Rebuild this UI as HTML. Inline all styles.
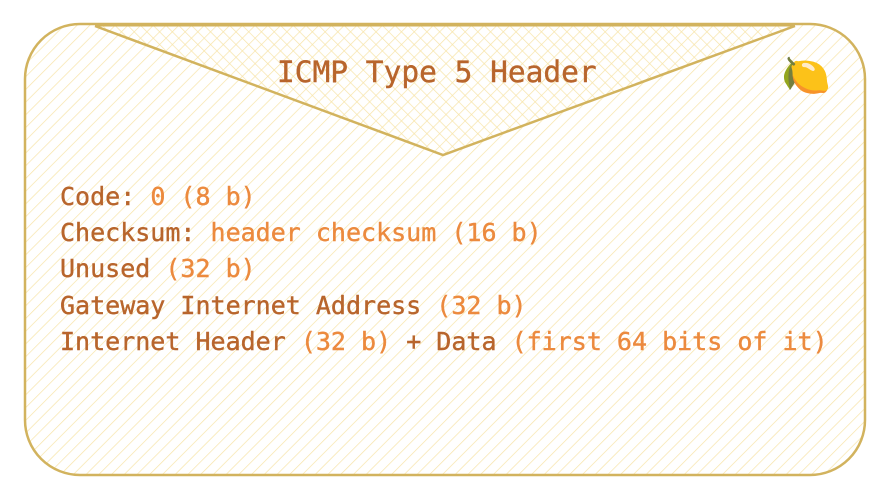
<!DOCTYPE html>
<html><head><meta charset="utf-8"><style>
html,body{margin:0;padding:0;background:#fff;width:888px;height:498px;overflow:hidden}
.t{font-family:"DejaVu Sans Mono","Liberation Mono",monospace;position:absolute;white-space:pre;-webkit-text-stroke:0.4px currentColor}
.d{color:#b8652c}.l{color:#ec8a3e}
</style></head><body>
<svg width="888" height="498" style="position:absolute;left:0;top:0">
<defs>
<pattern id="h" width="9" height="9" patternUnits="userSpaceOnUse" patternTransform="rotate(45)">
<line x1="0" y1="0" x2="0" y2="9" stroke="#f7e4a8" stroke-width="1.4"/></pattern>
<pattern id="h2" width="9" height="9" patternUnits="userSpaceOnUse" patternTransform="rotate(-45)">
<line x1="0" y1="0" x2="0" y2="9" stroke="#f7e4a8" stroke-width="1.4"/></pattern>
</defs>
<rect x="25" y="24" width="840" height="451" rx="55" fill="url(#h)"/>
<polygon points="95,25 795,25 443,155" fill="url(#h2)"/>
<rect x="25" y="24" width="840" height="451" rx="55" fill="none" stroke="#d2b35e" stroke-width="2.5"/>
<polyline points="95,26 443,155 795,26" fill="none" stroke="#d2b35e" stroke-width="2.5"/>
<line x1="95" y1="25" x2="795" y2="25" stroke="#d2b35e" stroke-width="3"/>
</svg>
<div class="t d" style="left:277px;top:55px;font-size:29.5px;line-height:34px">ICMP Type 5 Header</div>
<div style="position:absolute;left:781px;top:52px;font-size:40px;line-height:48px">🍋</div>
<div class="t" style="left:60px;top:179px;font-size:25px;line-height:36.2px"><span class="d">Code: </span><span class="l">0 (8 b)</span>
<span class="d">Checksum: </span><span class="l">header checksum (16 b)</span>
<span class="d">Unused </span><span class="l">(32 b)</span>
<span class="d">Gateway Internet Address </span><span class="l">(32 b)</span>
<span class="d">Internet Header </span><span class="l">(32 b)</span><span class="d"> + Data </span><span class="l">(first 64 bits of it)</span></div>
</body></html>
